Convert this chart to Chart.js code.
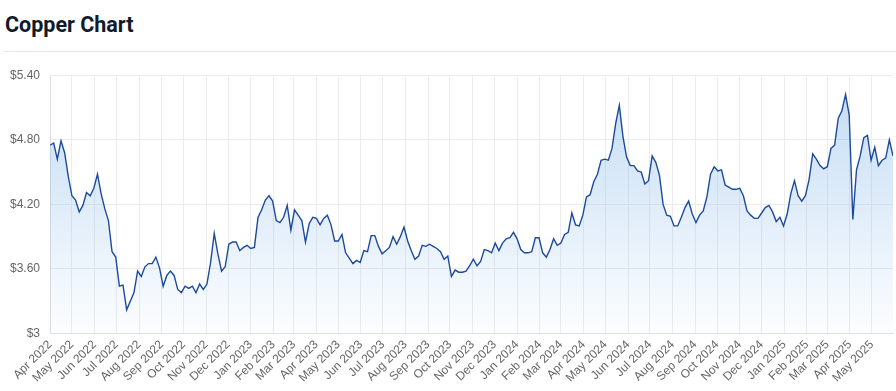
<!DOCTYPE html>
<html>
<head>
<meta charset="utf-8">
<script src="https://cdn.jsdelivr.net/npm/chart.js@4.4.1/dist/chart.umd.min.js"></script>
<style>
  body { margin: 0; background: #fff; width: 896px; height: 391px; overflow: hidden; }
  .title { position: absolute; left: 5px; top: 12px; margin: 0; font-family: Roboto, "Liberation Sans", Arial, sans-serif; font-size: 21.5px; font-weight: 700; color: #0f1a2c; }
  .rule { position: absolute; left: 4px; right: 0; top: 51px; height: 1px; background: #e3e8ee; }
  .chartBox { position: absolute; left: 0; top: 58px; width: 896px; height: 331px; }
</style>
</head>
<body>
<h2 class="title">Copper Chart</h2>
<div class="rule"></div>
<div class="chartBox"><canvas id="copperChart"></canvas></div>
<script>
// one price every 5 days, starting 1 Apr 2022
const startYear = 2022
const startMonth = 3
const stepDays = 5

const prices = [
  4.75, 4.77, 4.62, 4.79, 4.68, 4.46, 4.28, 4.24, 4.13, 4.19, 4.31, 4.28,
  4.35, 4.48, 4.30, 4.16, 4.05, 3.76, 3.71, 3.44, 3.45, 3.22, 3.30, 3.38,
  3.58, 3.53, 3.62, 3.65, 3.65, 3.71, 3.61, 3.44, 3.54, 3.58, 3.54, 3.41,
  3.38, 3.44, 3.42, 3.44, 3.38, 3.46, 3.41, 3.46, 3.66, 3.93, 3.74, 3.58,
  3.62, 3.83, 3.85, 3.85, 3.77, 3.80, 3.82, 3.79, 3.80, 4.08, 4.15, 4.24,
  4.28, 4.23, 4.05, 4.03, 4.08, 4.19, 3.96, 4.15, 4.10, 4.05, 3.85, 4.02,
  4.08, 4.07, 4.01, 4.07, 4.10, 4.01, 3.86, 3.86, 3.92, 3.75, 3.70, 3.65,
  3.68, 3.66, 3.77, 3.76, 3.91, 3.91, 3.81, 3.74, 3.77, 3.80, 3.90, 3.83,
  3.90, 3.99, 3.86, 3.77, 3.69, 3.72, 3.82, 3.81, 3.83, 3.81, 3.79, 3.76,
  3.69, 3.72, 3.53, 3.59, 3.57, 3.57, 3.58, 3.63, 3.69, 3.63, 3.67, 3.78,
  3.77, 3.75, 3.84, 3.77, 3.84, 3.88, 3.89, 3.94, 3.88, 3.78, 3.75, 3.75,
  3.76, 3.89, 3.89, 3.75, 3.71, 3.78, 3.88, 3.82, 3.84, 3.92, 3.94, 4.12,
  4.01, 4.00, 4.10, 4.27, 4.29, 4.41, 4.48, 4.61, 4.62, 4.61, 4.72, 4.95,
  5.12, 4.83, 4.64, 4.56, 4.56, 4.51, 4.50, 4.39, 4.42, 4.65, 4.59, 4.47,
  4.20, 4.10, 4.09, 4.00, 4.00, 4.08, 4.17, 4.23, 4.11, 4.03, 4.10, 4.14,
  4.27, 4.48, 4.55, 4.51, 4.52, 4.38, 4.36, 4.34, 4.34, 4.35, 4.28, 4.14,
  4.10, 4.07, 4.07, 4.12, 4.17, 4.19, 4.13, 4.04, 4.08, 4.00, 4.11, 4.30,
  4.42, 4.28, 4.23, 4.28, 4.43, 4.67, 4.62, 4.56, 4.53, 4.55, 4.72, 4.75,
  5.00, 5.07, 5.22, 5.03, 4.06, 4.52, 4.65, 4.82, 4.84, 4.61, 4.73, 4.56,
  4.61, 4.63, 4.80, 4.65
]

const monthLabels = [
  'Apr 2022', 'May 2022', 'Jun 2022', 'Jul 2022', 'Aug 2022', 'Sep 2022', 'Oct 2022', 'Nov 2022', 'Dec 2022',
  'Jan 2023', 'Feb 2023', 'Mar 2023', 'Apr 2023', 'May 2023', 'Jun 2023', 'Jul 2023', 'Aug 2023', 'Sep 2023', 'Oct 2023', 'Nov 2023', 'Dec 2023',
  'Jan 2024', 'Feb 2024', 'Mar 2024', 'Apr 2024', 'May 2024', 'Jun 2024', 'Jul 2024', 'Aug 2024', 'Sep 2024', 'Oct 2024', 'Nov 2024', 'Dec 2024',
  'Jan 2025', 'Feb 2025', 'Mar 2025', 'Apr 2025', 'May 2025'
]

const yTicks = [3, 3.6, 4.2, 4.8, 5.4]
const yLabels = ['$3', '$3.60', '$4.20', '$4.80', '$5.40']

// day offset of the first of each month
const dayMs = 86400000
const t0 = Date.UTC(startYear, startMonth, 1)
const monthTicks = monthLabels.map((l, i) => (Date.UTC(startYear, startMonth + i, 1) - t0) / dayMs)

const points = prices.map((p, i) => ({ x: i * stepDays, y: p }))

const tickFont = { family: '"Liberation Sans", Arial, sans-serif', size: 12 }

const ctx = document.getElementById('copperChart').getContext('2d')

const copperChart = new Chart(ctx, {
  type: 'line',
  data: {
    datasets: [{
      label: 'Copper',
      data: points,
      borderColor: '#1c4a9c',
      borderWidth: 1.4,
      pointRadius: 0,
      tension: 0,
      fill: 'start',
      backgroundColor: c => {
        const area = c.chart.chartArea
        if (!area) return 'rgba(0,0,0,0)'
        const g = c.chart.ctx.createLinearGradient(0, area.top, 0, area.bottom)
        g.addColorStop(0, 'rgba(110,170,228,0.42)')
        g.addColorStop(1, 'rgba(110,170,228,0.02)')
        return g
      }
    }]
  },
  options: {
    responsive: true,
    maintainAspectRatio: false,
    animation: false,
    layout: { padding: { top: 6, right: 3, bottom: 0, left: 0 } },
    plugins: {
      legend: { display: false },
      tooltip: { enabled: false }
    },
    scales: {
      x: {
        type: 'linear',
        min: 0,
        max: (prices.length - 1) * stepDays,
        afterBuildTicks: axis => { axis.ticks = monthTicks.map(v => ({ value: v })) },
        ticks: {
          autoSkip: false,
          maxRotation: 45,
          minRotation: 45,
          padding: 4,
          color: '#666',
          font: tickFont,
          callback: (v, i) => monthLabels[i]
        },
        grid: { color: '#ececec', drawTicks: false },
        border: { color: '#e0e0e0' }
      },
      y: {
        min: 3,
        max: 5.4,
        afterBuildTicks: axis => { axis.ticks = yTicks.map(v => ({ value: v })) },
        ticks: {
          padding: 10,
          color: '#666',
          font: tickFont,
          callback: (v, i) => yLabels[i]
        },
        grid: { color: '#ececec', drawTicks: false },
        border: { color: '#e0e0e0' }
      }
    }
  }
})
</script>
</body>
</html>
